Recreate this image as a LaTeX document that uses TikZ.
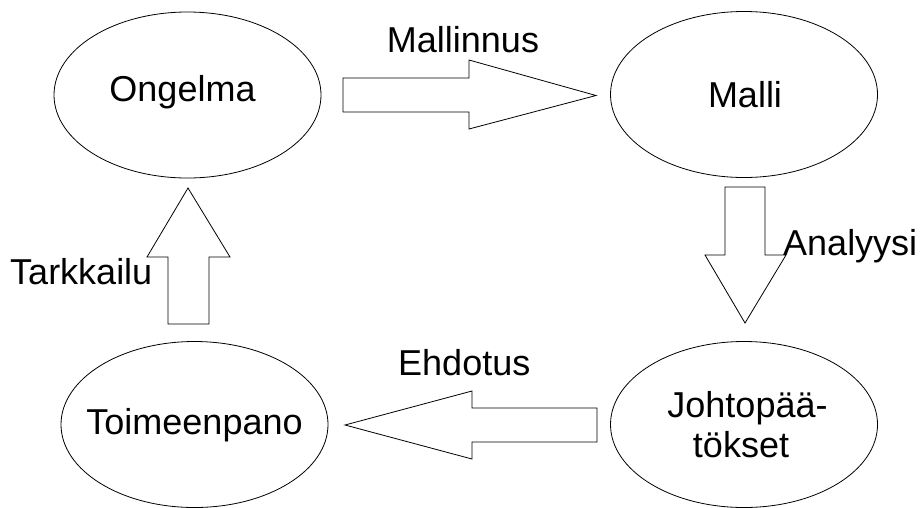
\documentclass[tikz,border=0pt]{standalone}
\usepackage{fontspec}
\setmainfont{Liberation Sans}
\usetikzlibrary{shapes.geometric}
\begin{document}
\begin{tikzpicture}[x=1pt,y=-1pt,
  ell/.style={draw, ellipse, line width=0.8pt, inner sep=0pt, minimum width=267pt, minimum height=166pt},
  lbl/.style={font=\fontsize{36}{37}\selectfont, inner sep=0pt, anchor=base},
  blockarrow/.style={draw, line width=0.8pt, line join=miter, fill=white}]
\useasboundingbox (0,0) rectangle (920,507);
% ellipses
\node[ell] (ong) at (187.5,95) {};
\node[ell] (mal) at (744,94.5) {};
\node[ell] (toi) at (194.5,424.5) {};
\node[ell] (joh) at (744,424.5) {};
% texts in ellipses
\node[lbl] (tOng) at (182.5,101) {Ongelma};
\node[lbl] (tMal) at (745,107) {Malli};
\node[lbl] (tToi) at (194.5,434) {Toimeenpano};
\node[lbl] (tJoh1) at (747.5,417) {Johtopää-};
\node[lbl] (tJoh2) at (741,457) {tökset};
% block arrows
\draw[blockarrow] (343,78) -- (469,78) -- (469,60) -- (596,95.5) -- (469,129) -- (469,112) -- (343,112) -- cycle;
\draw[blockarrow] (725,187) -- (765,187) -- (765,255) -- (786,255) -- (745,323) -- (705,255) -- (725,255) -- cycle;
\draw[blockarrow] (168,324) -- (209,324) -- (209,257) -- (230,257) -- (188,188) -- (147,257) -- (168,257) -- cycle;
\draw[blockarrow] (597,408) -- (472,408) -- (472,391) -- (345,425) -- (472,459) -- (472,442) -- (597,442) -- cycle;
% arrow labels
\node[lbl] (lMall) at (463,52) {Mallinnus};
\node[lbl, anchor=base west] (lAna) at (783,255) {Analyysi};
\node[lbl, anchor=base west] (lTar) at (10,284) {Tarkkailu};
\node[lbl, anchor=base west] (lEhd) at (398,375) {Ehdotus};
\end{tikzpicture}
\end{document}
